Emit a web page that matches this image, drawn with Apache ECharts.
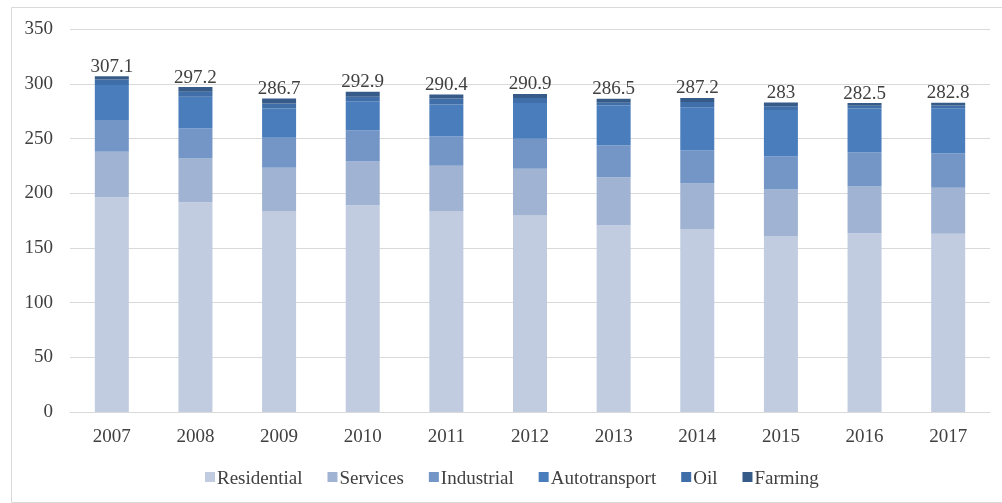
<!DOCTYPE html>
<html>
<head>
<meta charset="utf-8">
<script src="https://cdn.jsdelivr.net/npm/echarts@6/dist/echarts.min.js"></script>
<style>
html,body{margin:0;padding:0;background:#fff;}
#chart{width:1002px;height:503px;}
</style>
</head>
<body>
<div id="chart"></div>
<script>
var categories = ['2007','2008','2009','2010','2011','2012','2013','2014','2015','2016','2017'];
var residential = [196.4,191.8,183.3,189.0,183.3,179.6,170.7,166.8,160.6,163.4,163.1];
var services    = [41.7,40.0,40.0,40.1,41.8,42.8,44.0,42.1,42.8,42.8,42.1];
var industrial  = [29.0,27.5,27.5,28.4,26.9,27.5,29.3,30.2,30.2,31.4,31.5];
var autotransport = [32.0,29.0,26.8,26.8,29.3,32.6,36.4,39.7,42.5,40.0,41.2];
var oil         = [5.0,4.7,4.6,4.0,5.5,4.6,2.4,4.6,3.6,2.5,2.5];
var farming     = [3.0,4.2,4.5,4.6,3.6,3.8,3.7,3.8,3.3,2.4,2.4];
var totals      = ['307.1','297.2','286.7','292.9','290.4','290.9','286.5','287.2','283','282.5','282.8'];
var seriesNames = ['Residential','Services','Industrial','Autotransport','Oil','Farming'];
var seriesColors = ['#c1cce0','#a0b3d2','#7496c6','#4a7dbb','#3f6ea8','#365b88'];
var yTicks = [0,50,100,150,200,250,300,350];

var font = 'Liberation Serif';
var chart = echarts.init(document.getElementById('chart'));

// legend drawn as graphic elements (serif font)
var ctx = document.createElement('canvas').getContext('2d');
ctx.font = '19px "Liberation Serif"';
var legendEls = [];
var lx = 205, ly = 477;
seriesNames.forEach(function(n, i){
  legendEls.push({type: 'rect', left: lx, top: ly - 5, shape: {width: 10, height: 10}, style: {fill: seriesColors[i]}});
  legendEls.push({type: 'text', left: lx + 12, top: ly - 7,
    style: {text: n, fontFamily: font, fontSize: 19, fill: '#404040'}});
  lx += 12 + ctx.measureText(n).width + 25;
});

function bar(i, data, withLabel) {
  var s = {
    name: seriesNames[i], type: 'bar', stack: 'total', data: data, barWidth: 34,
    itemStyle: {color: seriesColors[i]}
  };
  if (withLabel) {
    s.label = {
      show: true, position: 'top', distance: 0,
      fontFamily: font, fontSize: 19, color: '#404040',
      formatter: function(p){ return totals[p.dataIndex]; }
    };
  }
  return s;
}
chart.setOption({
  animation: false,
  textStyle: {fontFamily: font},
  graphic: [{
    type: 'rect', left: 9, top: 5,
    shape: {width: 991, height: 495},
    style: {fill: 'none', stroke: '#d9d9d9', lineWidth: 1}
  }].concat(legendEls),
  grid: {left: 70, right: 12, top: 29.3, bottom: 91},
  xAxis: {
    type: 'category', data: categories,
    axisLine: {lineStyle: {color: '#d9d9d9'}},
    axisTick: {show: false},
    axisLabel: {fontFamily: font, fontSize: 19, color: '#404040', margin: 16}
  },
  yAxis: {
    type: 'value', min: yTicks[0], max: yTicks[yTicks.length-1], interval: 50,
    axisLine: {show: false}, axisTick: {show: false},
    splitLine: {lineStyle: {color: '#d9d9d9'}},
    axisLabel: {fontFamily: font, fontSize: 19, color: '#404040', margin: 17}
  },
  series: [
    bar(0, residential),
    bar(1, services),
    bar(2, industrial),
    bar(3, autotransport),
    bar(4, oil),
    bar(5, farming, true)
  ]
});
</script>
</body>
</html>
